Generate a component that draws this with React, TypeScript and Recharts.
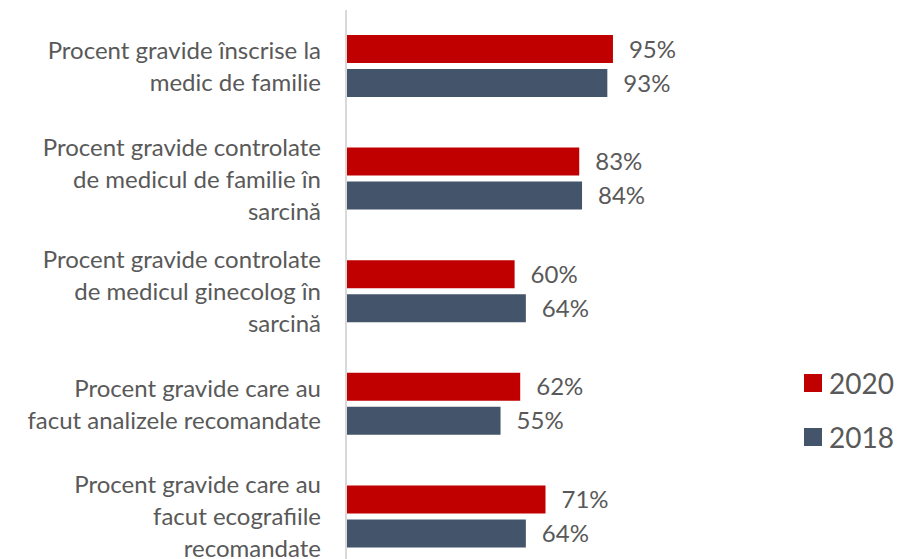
import { BarChart, Bar, XAxis, YAxis, LabelList } from "recharts";

const categories = [
  "Procent gravide înscrise la\nmedic de familie",
  "Procent gravide controlate\nde medicul de familie în\nsarcină",
  "Procent gravide controlate\nde medicul ginecolog în\nsarcină",
  "Procent gravide care au\nfacut analizele recomandate",
  "Procent gravide care au\nfacut ecografiile\nrecomandate",
];
const values2020 = [95, 83, 60, 62, 71];
const values2018 = [93, 84, 64, 55, 64];

const data = categories.map((name, i) => ({
  name,
  y2020: values2020[i],
  y2018: values2018[i],
}));

const TEXT = "#595959";
const FONT = "Lato, 'Open Sans', sans-serif";

const CategoryTick = ({ y, payload }: any) => {
  const lines: string[] = String(payload.value).split("\n");
  const lh = 32;
  const start = y - ((lines.length - 1) * lh) / 2;
  return (
    <text textAnchor="end" fill={TEXT} fontSize={24} fontFamily={FONT}>
      {lines.map((l, i) => (
        <tspan key={i} x={321} y={start + i * lh} dy="0.36em">
          {l}
        </tspan>
      ))}
    </text>
  );
};

const legendItems = [
  { label: "2020", color: "#C00000" },
  { label: "2018", color: "#44546A" },
];

const App = () => {
  return (
    <div
      style={{
        position: "fixed",
        top: 0,
        left: 0,
        width: 898,
        height: 559,
        overflow: "hidden",
        background: "#fff",
      }}
    >
      <BarChart
        width={898}
        height={580}
        data={data}
        layout="vertical"
        margin={{ top: 10, right: 271, bottom: 7, left: 0 }}
        barSize={28}
        barGap={6}
      >
        <XAxis type="number" domain={[0, 100]} hide />
        <YAxis
          type="category"
          dataKey="name"
          width={346}
          axisLine={{ stroke: "#D9D9D9", strokeWidth: 2 }}
          tickLine={false}
          tick={<CategoryTick />}
          interval={0}
        />
        <Bar dataKey="y2020" name="2020" fill="#C00000" isAnimationActive={false}>
          <LabelList
            dataKey="y2020"
            position="right"
            offset={16}
            formatter={(v: any) => `${v}%`}
            fill={TEXT}
            fontSize={24}
            fontFamily={FONT}
          />
        </Bar>
        <Bar dataKey="y2018" name="2018" fill="#44546A" isAnimationActive={false}>
          <LabelList
            dataKey="y2018"
            position="right"
            offset={16}
            formatter={(v: any) => `${v}%`}
            fill={TEXT}
            fontSize={24}
            fontFamily={FONT}
          />
        </Bar>
      </BarChart>
      <div
        style={{
          position: "absolute",
          left: 804,
          top: 356,
          fontFamily: FONT,
          color: TEXT,
          fontSize: 28,
        }}
      >
        {legendItems.map((it) => (
          <div key={it.label} style={{ display: "flex", alignItems: "center", height: 54 }}>
            <span style={{ width: 18, height: 18, background: it.color, marginRight: 7 }} />
            <span>{it.label}</span>
          </div>
        ))}
      </div>
    </div>
  );
};

export default App;
